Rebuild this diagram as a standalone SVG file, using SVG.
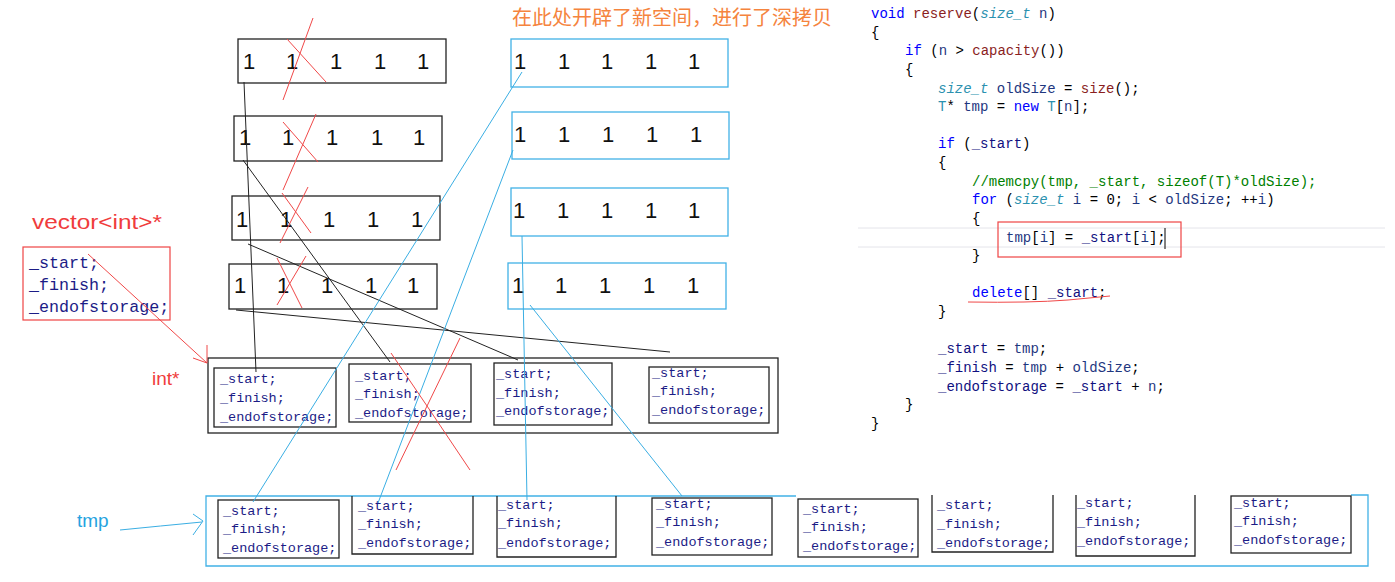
<svg xmlns="http://www.w3.org/2000/svg" width="1395" height="582" viewBox="0 0 1395 582">
<style>
.bk{fill:none;stroke:#222;stroke-width:1.3}
.bl{fill:none;stroke:#41b1e6;stroke-width:1.3}
.rd{fill:none;stroke:#f04848;stroke-width:1}
.ln{fill:none;stroke:#222;stroke-width:1}
.lb{fill:none;stroke:#3aaee3;stroke-width:1}
.d{font-family:"Liberation Sans",Arial,sans-serif;font-size:22px;fill:#111}
.m{font-family:"Liberation Mono","DejaVu Sans Mono",monospace;font-size:13.5px;fill:#1c1c86}
.c{font-family:"Liberation Mono","DejaVu Sans Mono",monospace;font-size:14px;fill:#000;white-space:pre}
.kw{fill:#0000ff}.fn{fill:#8a1e1e}.ty{fill:#2b91af;font-style:italic}.tt{fill:#2b91af}.v{fill:#1f377f}.mb{fill:#101080}.cm{fill:#008000}
</style>
<rect width="1395" height="582" fill="#fff"/>

<g id="old-arrays">
<g id="arr1"><rect class="bk" x="238" y="39" width="208" height="44"/>
<text class="d" text-anchor="middle" y="69"><tspan x="249">1</tspan><tspan x="292">1</tspan><tspan x="336">1</tspan><tspan x="380">1</tspan><tspan x="423">1</tspan></text></g>
<g id="arr2"><rect class="bk" x="234" y="116" width="208" height="45"/>
<text class="d" text-anchor="middle" y="145"><tspan x="245">1</tspan><tspan x="288">1</tspan><tspan x="332">1</tspan><tspan x="377">1</tspan><tspan x="419">1</tspan></text></g>
<g id="arr3"><rect class="bk" x="232" y="196" width="208" height="44"/>
<text class="d" text-anchor="middle" y="227"><tspan x="242">1</tspan><tspan x="286">1</tspan><tspan x="329">1</tspan><tspan x="373">1</tspan><tspan x="417">1</tspan></text></g>
<g id="arr4"><rect class="bk" x="229" y="264" width="208" height="45"/>
<text class="d" text-anchor="middle" y="293"><tspan x="240">1</tspan><tspan x="283">1</tspan><tspan x="327">1</tspan><tspan x="371">1</tspan><tspan x="413">1</tspan></text></g>
</g>

<g id="new-arrays">
<g id="narr1"><rect class="bl" x="511" y="39" width="217" height="48"/>
<text class="d" text-anchor="middle" y="69"><tspan x="520">1</tspan><tspan x="564">1</tspan><tspan x="607">1</tspan><tspan x="651">1</tspan><tspan x="694">1</tspan></text></g>
<g id="narr2"><rect class="bl" x="512" y="112" width="217" height="47"/>
<text class="d" text-anchor="middle" y="142"><tspan x="520">1</tspan><tspan x="564">1</tspan><tspan x="608">1</tspan><tspan x="652">1</tspan><tspan x="696">1</tspan></text></g>
<g id="narr3"><rect class="bl" x="511" y="188" width="217" height="48"/>
<text class="d" text-anchor="middle" y="218"><tspan x="519">1</tspan><tspan x="563">1</tspan><tspan x="607">1</tspan><tspan x="651">1</tspan><tspan x="694">1</tspan></text></g>
<g id="narr4"><rect class="bl" x="508" y="263" width="218" height="46"/>
<text class="d" text-anchor="middle" y="293"><tspan x="518">1</tspan><tspan x="561">1</tspan><tspan x="605">1</tspan><tspan x="649">1</tspan><tspan x="693">1</tspan></text></g>
</g>

<text id="note" x="512" y="25" style="font-family:'Noto Sans CJK SC','Noto Sans',sans-serif;font-size:20px;fill:#f5843e">在此处开辟了新空间，进行了深拷贝</text>

<g id="vector-ptr">
<text x="32" y="229" textLength="130" lengthAdjust="spacingAndGlyphs" style="font-family:'Liberation Sans',Arial,sans-serif;font-size:21px;fill:#f03c3c">vector&lt;int&gt;*</text>
<rect x="23" y="247" width="147" height="73" fill="none" stroke="#ef4444" stroke-width="1.2"/>
<text class="m" style="font-size:16.7px" x="29"><tspan x="29" y="268">_start;</tspan><tspan x="29" y="290">_finish;</tspan><tspan x="29" y="312">_endofstorage;</tspan></text>
</g>

<text id="intptr" x="152" y="385" style="font-family:'Liberation Sans',Arial,sans-serif;font-size:19px;fill:#f03c3c">int*</text>

<g id="int-ptrs">
<rect class="bk" x="208" y="358" width="570" height="75"/>
<g id="p1"><rect class="bk" x="214" y="368" width="122" height="59"/>
<text class="m"><tspan x="220" y="383">_start;</tspan><tspan x="220" y="402">_finish;</tspan><tspan x="220" y="421">_endofstorage;</tspan></text></g>
<g id="p2"><rect class="bk" x="349" y="364" width="122" height="58"/>
<text class="m"><tspan x="355" y="380">_start;</tspan><tspan x="355" y="398">_finish;</tspan><tspan x="355" y="417">_endofstorage;</tspan></text></g>
<g id="p3"><rect class="bk" x="494" y="363" width="118" height="62"/>
<text class="m"><tspan x="496" y="378">_start;</tspan><tspan x="496" y="397">_finish;</tspan><tspan x="496" y="415">_endofstorage;</tspan></text></g>
<g id="p4"><rect class="bk" x="649" y="367" width="120" height="56"/>
<text class="m"><tspan x="652" y="377">_start;</tspan><tspan x="652" y="395">_finish;</tspan><tspan x="652" y="414">_endofstorage;</tspan></text></g>
</g>

<g id="tmp-ptrs">
<path class="bl" d="M796,496 H206 V566 H1368 V495 H1351"/>
<g id="t1"><rect class="bk" x="218" y="500" width="121" height="58"/>
<text class="m"><tspan x="223" y="515">_start;</tspan><tspan x="223" y="533">_finish;</tspan><tspan x="223" y="552">_endofstorage;</tspan></text></g>
<g id="t2"><path class="bk" d="M352,496 V554 H473 V496"/>
<text class="m"><tspan x="358" y="510">_start;</tspan><tspan x="358" y="528">_finish;</tspan><tspan x="358" y="547">_endofstorage;</tspan></text></g>
<g id="t3"><path class="bk" d="M497,496 V557 H616 V496"/>
<text class="m"><tspan x="498" y="509">_start;</tspan><tspan x="498" y="527">_finish;</tspan><tspan x="498" y="547">_endofstorage;</tspan></text></g>
<g id="t4"><rect class="bk" x="652" y="498" width="120" height="57"/>
<text class="m"><tspan x="656" y="508">_start;</tspan><tspan x="656" y="526">_finish;</tspan><tspan x="656" y="546">_endofstorage;</tspan></text></g>
<g id="t5"><rect class="bk" x="798" y="499" width="120" height="58"/>
<text class="m"><tspan x="803" y="513">_start;</tspan><tspan x="803" y="531">_finish;</tspan><tspan x="803" y="550">_endofstorage;</tspan></text></g>
<g id="t6"><path class="bk" d="M932,495 V552 H1053 V495"/>
<text class="m"><tspan x="937" y="509">_start;</tspan><tspan x="937" y="528">_finish;</tspan><tspan x="937" y="547">_endofstorage;</tspan></text></g>
<g id="t7"><path class="bk" d="M1076,495 V556 H1195 V495"/>
<text class="m"><tspan x="1077" y="507">_start;</tspan><tspan x="1077" y="526">_finish;</tspan><tspan x="1077" y="545">_endofstorage;</tspan></text></g>
<g id="t8"><rect class="bk" x="1231" y="496" width="120" height="57"/>
<text class="m"><tspan x="1234" y="507">_start;</tspan><tspan x="1234" y="525">_finish;</tspan><tspan x="1234" y="544">_endofstorage;</tspan></text></g>
</g>

<text id="tmp-label" x="77" y="527" style="font-family:'Liberation Sans',Arial,sans-serif;font-size:19px;fill:#25a3e0">tmp</text>

<g id="code">
<line x1="858" y1="228" x2="1385" y2="228" stroke="#e4e4ea" stroke-width="1"/>
<line x1="858" y1="247" x2="1385" y2="247" stroke="#e4e4ea" stroke-width="1"/>
<text class="c" x="871" y="18"><tspan class="kw">void</tspan> <tspan class="fn">reserve</tspan>(<tspan class="ty">size_t</tspan> <tspan class="v">n</tspan>)</text>
<text class="c" x="871" y="37">{</text>
<text class="c" x="905" y="55"><tspan class="kw">if</tspan> (<tspan class="v">n</tspan> &gt; <tspan class="fn">capacity</tspan>())</text>
<text class="c" x="905" y="74">{</text>
<text class="c" x="938" y="93"><tspan class="ty">size_t</tspan> <tspan class="v">oldSize</tspan> = <tspan class="fn">size</tspan>();</text>
<text class="c" x="938" y="111"><tspan class="tt">T</tspan>* <tspan class="v">tmp</tspan> = <tspan class="kw">new</tspan> <tspan class="tt">T</tspan>[<tspan class="v">n</tspan>];</text>
<text class="c" x="938" y="148"><tspan class="kw">if</tspan> (<tspan class="mb">_start</tspan>)</text>
<text class="c" x="938" y="167">{</text>
<text class="c cm" x="972" y="186">//memcpy(tmp, _start, sizeof(T)*oldSize);</text>
<text class="c" x="972" y="204"><tspan class="kw">for</tspan> (<tspan class="ty">size_t</tspan> <tspan class="v">i</tspan> = 0; <tspan class="v">i</tspan> &lt; <tspan class="v">oldSize</tspan>; ++<tspan class="v">i</tspan>)</text>
<text class="c" x="972" y="223">{</text>
<text class="c" x="1006" y="242"><tspan class="v">tmp</tspan>[<tspan class="v">i</tspan>] = <tspan class="mb">_start</tspan>[<tspan class="v">i</tspan>];</text>
<line x1="1165" y1="228" x2="1165" y2="249" stroke="#000" stroke-width="1"/>
<text class="c" x="972" y="260">}</text>
<text class="c" x="972" y="297"><tspan class="kw">delete</tspan>[] <tspan class="mb">_start</tspan>;</text>
<text class="c" x="938" y="316">}</text>
<text class="c" x="938" y="353"><tspan class="mb">_start</tspan> = <tspan class="v">tmp</tspan>;</text>
<text class="c" x="938" y="372"><tspan class="mb">_finish</tspan> = <tspan class="v">tmp</tspan> + <tspan class="v">oldSize</tspan>;</text>
<text class="c" x="938" y="391"><tspan class="mb">_endofstorage</tspan> = <tspan class="mb">_start</tspan> + <tspan class="v">n</tspan>;</text>
<text class="c" x="905" y="409">}</text>
<text class="c" x="871" y="428">}</text>
<rect x="998" y="222" width="183" height="35" fill="none" stroke="#ef4444" stroke-width="1.2"/>
<path class="rd" d="M968,302 Q1030,303 1068,300 L1110,296"/>
</g>

<g id="connectors">
<path class="ln" d="M244,82 L256,372"/>
<path class="ln" d="M243,160 L390,362"/>
<path class="ln" d="M248,244 L518,360"/>
<path class="ln" d="M236,310 L670,352"/>
<path class="lb" d="M522,72 L253,502"/>
<path class="lb" d="M513,150 L378,503"/>
<path class="lb" d="M522,236 L527,500"/>
<path class="lb" d="M530,305 L682,496"/>
<path class="rd" d="M283,100 L313,18"/>
<path class="rd" d="M287,39 L326,82"/>
<path class="rd" d="M283,122 L318,162"/>
<path class="rd" d="M316,114 L283,190"/>
<path class="rd" d="M282,193 L311,233"/>
<path class="rd" d="M308,187 L280,243"/>
<path class="rd" d="M277,258 L302,308"/>
<path class="rd" d="M306,256 L277,305"/>
<path class="rd" d="M460,338 L396,470"/>
<path class="rd" d="M391,353 Q430,410 470,470"/>
<path class="rd" d="M88,254 L207,363 M207,345 L207,363 L193,358"/>
<path class="lb" d="M120,530 Q160,526 202,522 M193,514 L203,521 L193,535"/>
</g>
</svg>
